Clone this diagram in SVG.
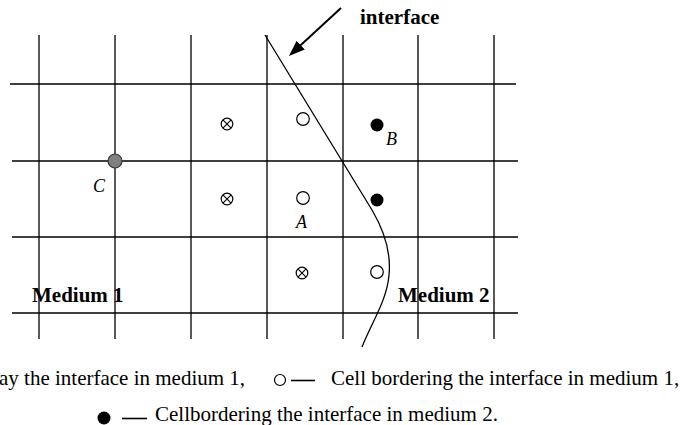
<svg xmlns="http://www.w3.org/2000/svg" width="683" height="425" viewBox="0 0 683 425">
<style>
.g{stroke:#000;stroke-width:1.3;fill:none}
.t{font-family:"Liberation Serif","Times New Roman",serif;fill:#000}
.b{font-weight:bold;font-size:21px}
.i{font-style:italic;font-size:18px}
.l{font-size:21px}
.x{fill:#fff;stroke:#000;stroke-width:1.2}
.o{fill:#fff;stroke:#000;stroke-width:1.2}
.f{fill:#000}
</style>
<defs>
<marker id="ah" markerWidth="16" markerHeight="12" refX="12" refY="6" orient="auto" markerUnits="userSpaceOnUse" viewBox="0 0 16 12">
<path d="M0,0 L16,6 L0,12 z" fill="#000"/>
</marker>
<g id="cross"><circle r="5.8" class="x"/><path d="M-4.1,-4.1 L4.1,4.1 M-4.1,4.1 L4.1,-4.1" stroke="#000" stroke-width="1.1"/></g>
</defs>
<g id="grid" class="g">
<path d="M39,35V339 M115,35V339 M191,35V339 M267,35V339 M343,35V339 M418,35V339 M494,35V339"/>
<path d="M10,84H516 M12,161H518 M12,237H518 M12,313H518"/>
</g>
<g id="connectors">
<path id="interface-curve" class="g" d="M265,35 L372,210 C385,232 391,255 389,275 C387,300 372,322 362,347"/>
<line x1="341" y1="8" x2="291.9" y2="53.3" stroke="#000" stroke-width="2" marker-end="url(#ah)"/>
</g>
<g id="label-interface"><text class="t b" x="360" y="24">interface</text></g>
<g id="node-C"><circle cx="115" cy="161" r="7" fill="#808080" stroke="#333" stroke-width="1.2"/><text class="t i" x="93" y="192">C</text></g>
<g id="node-r1"><use href="#cross" x="227" y="124"/><circle class="o" cx="303" cy="119" r="6.3"/></g>
<g id="node-B"><circle class="f" cx="377" cy="125" r="6.5"/><text class="t i" x="386" y="145">B</text></g>
<g id="node-r2"><use href="#cross" x="227" y="199"/><circle class="f" cx="377" cy="200" r="6.5"/></g>
<g id="node-A"><circle class="o" cx="303" cy="198" r="6.3"/><text class="t i" x="296" y="228">A</text></g>
<g id="node-r3"><use href="#cross" x="302" y="273"/><circle class="o" cx="377" cy="272" r="6.3"/></g>
<g id="label-m1"><text class="t b" x="32" y="302">Medium 1</text></g>
<g id="label-m2"><text class="t b" x="398" y="302">Medium 2</text></g>
<g id="legend">
<text class="t l" x="-1" y="385">ay the interface in medium 1,</text>
<circle class="o" cx="280" cy="380" r="5.5"/><line x1="291" y1="380.5" x2="315" y2="380.5" stroke="#000" stroke-width="1.6"/>
<text class="t l" x="331" y="385">Cell bordering the interface in medium 1,</text>
<circle class="f" cx="104" cy="418" r="6.5"/><line x1="122" y1="418.5" x2="147" y2="418.5" stroke="#000" stroke-width="1.6"/>
<text class="t l" x="155" y="421">Cellbordering the interface in medium 2.</text>
</g>
</svg>
